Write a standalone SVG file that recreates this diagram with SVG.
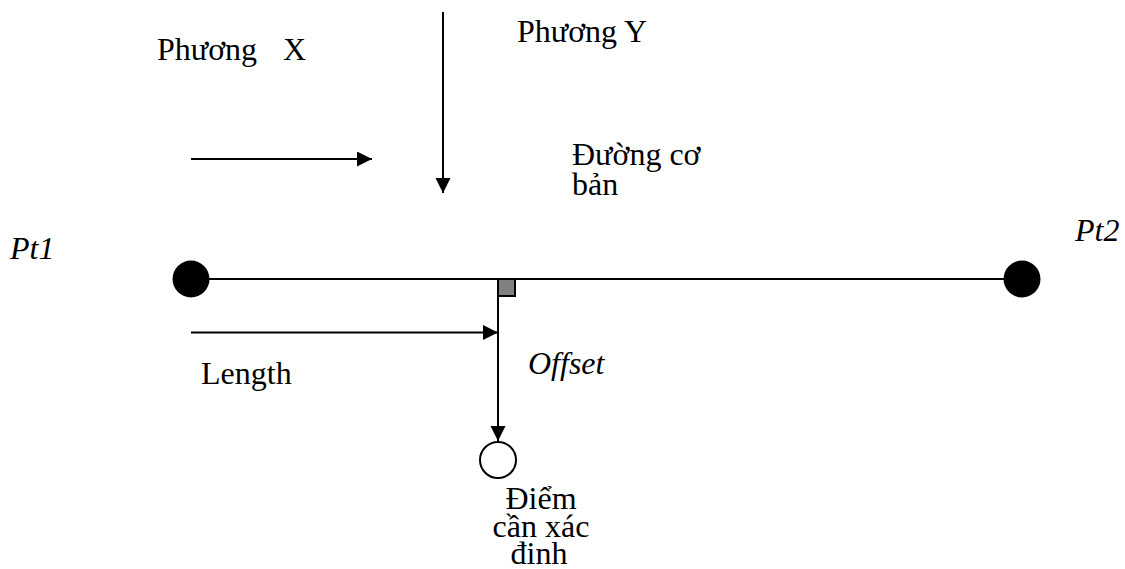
<svg xmlns="http://www.w3.org/2000/svg" width="1125" height="569" viewBox="0 0 1125 569">
  <style>
    .t { font-family: "Liberation Serif", "Times New Roman", serif; font-size: 32px; fill: #000; }
    .i { font-style: italic; }
    .ln { stroke: #000; stroke-width: 2; fill: none; }
    .dot { fill: #000; }
  </style>
  <defs>
    <marker id="ah" markerUnits="userSpaceOnUse" markerWidth="16" markerHeight="16" refX="15" refY="7.5" orient="auto">
      <path d="M0,0 L15,7.5 L0,15 Z" fill="#000"/>
    </marker>
  </defs>
  <rect width="1125" height="569" fill="#fff"/>

  <g id="connectors">
    <line id="dirX" class="ln" x1="191" y1="159" x2="372" y2="159" marker-end="url(#ah)"/>
    <line id="dirY" class="ln" x1="443" y1="12" x2="443" y2="193" marker-end="url(#ah)"/>
    <line id="baseline" class="ln" x1="191" y1="279" x2="1022" y2="279"/>
    <line id="length" class="ln" x1="191" y1="332.5" x2="498" y2="332.5" marker-end="url(#ah)"/>
    <line id="offset" class="ln" x1="498" y1="280" x2="498" y2="441" marker-end="url(#ah)"/>
  </g>

  <g id="label-phuongX"><text class="t" x="157" y="60">Phương<tspan x="283">X</tspan></text></g>
  <g id="label-phuongY"><text class="t" x="517" y="42">Phương Y</text></g>
  <g id="label-duongcoban">
    <text class="t" x="572" y="165">Đường cơ</text>
    <text class="t" x="572" y="195">bản</text>
  </g>
  <g id="pt1">
    <text class="t i" x="10" y="259">Pt1</text>
    <circle class="dot" cx="191" cy="279" r="18.5"/>
  </g>
  <g id="pt2">
    <text class="t i" x="1075" y="241">Pt2</text>
    <circle class="dot" cx="1022" cy="279" r="18.5"/>
  </g>
  <g id="foot">
    <rect x="498" y="279" width="17" height="17" fill="#808080" stroke="#000" stroke-width="2"/>
  </g>
  <g id="label-length"><text class="t" x="201" y="384">Length</text></g>
  <g id="label-offset"><text class="t i" x="528" y="374">Offset</text></g>
  <g id="target">
    <circle cx="498" cy="460" r="18" fill="#fff" stroke="#000" stroke-width="2"/>
    <text class="t" text-anchor="middle" x="541" y="509">Điểm</text>
    <text class="t" text-anchor="middle" x="541" y="537">cần xác</text>
    <text class="t" text-anchor="middle" x="539" y="564">đinh</text>
  </g>
</svg>
